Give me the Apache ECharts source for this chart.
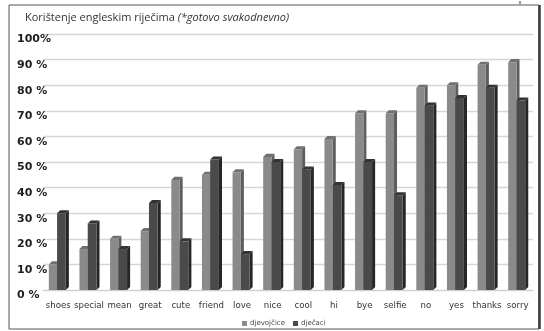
<!DOCTYPE html>
<html><head><meta charset="utf-8">
<script src="https://cdn.jsdelivr.net/npm/echarts@6/dist/echarts.min.js"></script>
<style>html,body{margin:0;padding:0;background:#fff}#c{width:544px;height:331px}</style>
</head><body><div id="c"></div>
<script>
var categories = ['shoes','special','mean','great','cute','friend','love','nice','cool','hi','bye','selfie','no','yes','thanks','sorry'];
var girls = [10,16,20,23,43,45,46,52,55,59,69,69,79,80,88,89];
var boys  = [30,26,16,34,19,51,14,50,47,41,50,37,72,75,79,74];
var seriesNames = ['djevojčice','dječaci'];
var yTickLabels = {0:'0 %',10:'10 %',20:'20 %',30:'30 %',40:'40 %',50:'50 %',60:'60 %',70:'70 %',80:'80 %',90:'90 %',100:'100%'};

function makeRender(fL, fR, cFront, cSide, cTop){
  return function(params, api){
    var idx = api.value(0), v = api.value(1);
    var top = api.coord([idx, v]);
    var base = api.coord([idx, 0]);
    var bw = api.size([1, 0])[0];
    var cx = top[0];
    var x0 = cx + fL*bw, x1 = cx + fR*bw;
    var y0 = top[1], y1 = base[1];
    var d = 0.1*bw;
    return {type:'group', children:[
      {type:'polygon', shape:{points:[[x1,y0],[x1+d,y0-d],[x1+d,y1-d],[x1,y1]]}, style:{fill:cSide}},
      {type:'polygon', shape:{points:[[x0,y0],[x0+d,y0-d],[x1+d,y0-d],[x1,y0]]}, style:{fill:cTop}},
      {type:'rect', shape:{x:x0, y:y0, width:x1-x0, height:y1-y0}, style:{fill:cFront}}
    ]};
  };
}

var chart = echarts.init(document.getElementById('c'), null, {renderer:'canvas'});
chart.setOption({
  backgroundColor:'#fff',
  animation:false,
  title:{
    left:20, top:7,
    text:'{n|Korištenje engleskim riječima }{i|(*gotovo svakodnevno)}',
    textStyle:{fontWeight:'normal', rich:{
      n:{fontFamily:'Open Sans', fontSize:11, fontWeight:'normal', color:'#333'},
      i:{fontFamily:'Open Sans', fontSize:11, fontWeight:'normal', fontStyle:'italic', color:'#333'}
    }}
  },
  legend:{
    data:[{name:seriesNames[0], icon:'rect'},{name:seriesNames[1], icon:'rect'}],
    left:237, top:315, itemWidth:5, itemHeight:5, itemGap:8,
    textStyle:{fontFamily:'DejaVu Sans', fontSize:7, color:'#444', padding:[0,0,0,-2]}
  },
  grid:{left:43, right:11, top:34, bottom:41},
  xAxis:{
    type:'category', data:categories,
    axisLine:{show:true, lineStyle:{color:'#cfcfcf'}},
    axisTick:{show:false},
    axisLabel:{fontFamily:'DejaVu Sans', fontSize:8.6, color:'#333', margin:11, interval:0}
  },
  yAxis:{
    type:'value', min:0, max:100, interval:10,
    axisLine:{show:false}, axisTick:{show:false},
    splitLine:{lineStyle:{color:'#d6d6d6', width:1.3}},
    axisLabel:{
      fontFamily:'DejaVu Sans', fontSize:11, fontWeight:'bold', color:'#1e1e1e',
      align:'left', verticalAlign:'top', margin:26,
      formatter:function(v){return yTickLabels[v];}
    }
  },
  series:[
    {name:seriesNames[0], type:'custom', itemStyle:{color:'#8a8a8a'},
     encode:{x:0,y:1},
     data:girls.map(function(v,i){return [i,v];}),
     renderItem:makeRender(-0.31,-0.04,'#8a8a8a','#5e5e5e','#707070')},
    {name:seriesNames[1], type:'custom', itemStyle:{color:'#4a4a4a'},
     encode:{x:0,y:1},
     data:boys.map(function(v,i){return [i,v];}),
     renderItem:makeRender(-0.04,0.245,'#4a4a4a','#262626','#333333')}
  ],
  graphic:[
    {type:'rect', shape:{x:9, y:5, width:530, height:324}, style:{fill:'none', stroke:'#555', lineWidth:1}, silent:true},
    {type:'line', shape:{x1:539.5, y1:5, x2:539.5, y2:329}, style:{stroke:'#3a3a3a', lineWidth:2.5}, silent:true},
    {type:'rect', shape:{x:519, y:1, width:2, height:3}, style:{fill:'#999'}, silent:true}
  ]
});
</script></body></html>
